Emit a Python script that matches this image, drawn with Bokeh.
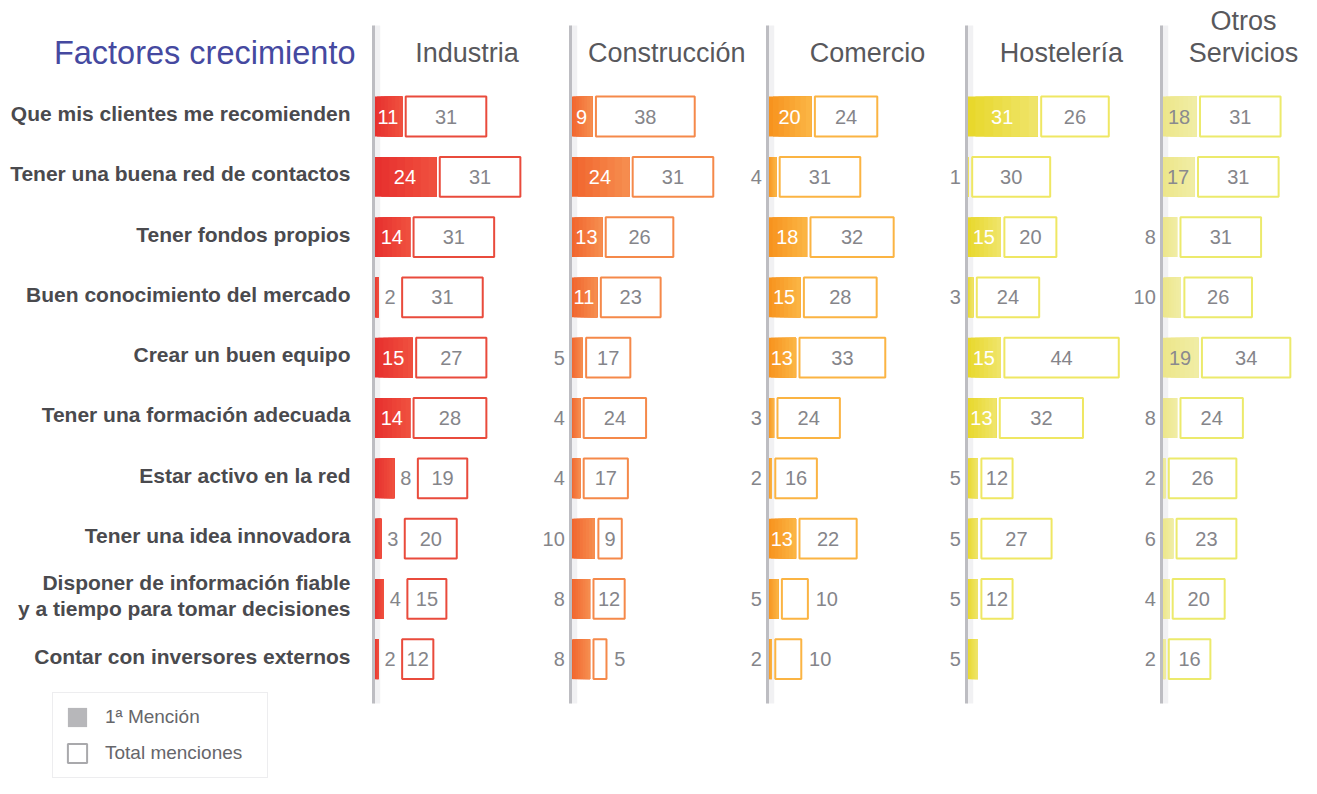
from bokeh.plotting import figure
from bokeh.models import Range1d, ColumnDataSource, Legend, LegendItem
from bokeh.embed import file_html
from bokeh.resources import INLINE
from bokeh.core.properties import value

# ---------------- data ----------------
factores = [
    "Que mis clientes me recomienden",
    "Tener una buena red de contactos",
    "Tener fondos propios",
    "Buen conocimiento del mercado",
    "Crear un buen equipo",
    "Tener una formación adecuada",
    "Estar activo en la red",
    "Tener una idea innovadora",
    "Disponer de información fiable\ny a tiempo para tomar decisiones",
    "Contar con inversores externos",
]
sectores = ["Industria", "Construcción", "Comercio", "Hostelería", "Otros\nServicios"]

primera_industria = [11, 24, 14, 2, 15, 14, 8, 3, 4, 2]
total_industria = [31, 31, 31, 31, 27, 28, 19, 20, 15, 12]
primera_construccion = [9, 24, 13, 11, 5, 4, 4, 10, 8, 8]
total_construccion = [38, 31, 26, 23, 17, 24, 17, 9, 12, 5]
primera_comercio = [20, 4, 18, 15, 13, 3, 2, 13, 5, 2]
total_comercio = [24, 31, 32, 28, 33, 24, 16, 22, 10, 10]
primera_hosteleria = [31, 1, 15, 3, 15, 13, 5, 5, 5, 5]
total_hosteleria = [26, 30, 20, 24, 44, 32, 12, 27, 12, None]
primera_otros = [18, 17, 8, 10, 19, 8, 2, 6, 4, 2]
total_otros = [31, 31, 31, 26, 34, 24, 26, 23, 20, 16]

primera = [primera_industria, primera_construccion, primera_comercio, primera_hosteleria, primera_otros]
total = [total_industria, total_construccion, total_comercio, total_hosteleria, total_otros]

titulo = "Factores crecimiento"
leyenda = ["1ª Mención", "Total menciones"]

# ---------------- styles / layout ----------------
W, H = 1301, 778
PX = 2.6            # px per unit (total boxes)
FILL_PX = [2.62, 2.45, 2.2, 2.3, 1.95]   # px per unit of the filled bars, per panel
ROW_PX = 60.3
TOP_PX = 116.0
FILL_A = ["#e7302e", "#f1662e", "#f7931e", "#e8d82c", "#ede68a"]   # left of bar
FILL_B = ["#ef4f3e", "#f68c4e", "#fbb443", "#efe468", "#f0eda4"]   # right of bar
LINE = ["#e94b3c", "#f5894a", "#fbb443", "#efe763", "#ecea6c"]
IN_TXT = ["white", "white", "white", "white", "#8a8a8e"]
OUT_MODE = ["between", "left", "left", "left", "left"]
AXIS_PAGE = [373, 570, 767, 966, 1161]
HEADER_DX = [36, 37, 38.5, 36.5, 31.5]
GRAY = "#85858a"
FONT = "Liberation Sans"
BAR_H = 0.66
STEPS = 8

def ux(page_x):
    return page_x / PX

def uy(page_y):
    return (page_y - TOP_PX) / ROW_PX

def mix(c1, c2, t):
    a = [int(c1[k:k + 2], 16) for k in (1, 3, 5)]
    b = [int(c2[k:k + 2], 16) for k in (1, 3, 5)]
    return "#" + "".join("%02x" % round(a[k] + (b[k] - a[k]) * t) for k in range(3))

p = figure(width=W, height=H, output_backend="svg", toolbar_location=None,
           x_range=Range1d(0, W / PX),
           y_range=Range1d((H - TOP_PX) / ROW_PX, -TOP_PX / ROW_PX),
           min_border=0, outline_line_color=None, background_fill_color="white")
p.axis.visible = False
p.xgrid.visible = False
p.ygrid.visible = False

bars = dict(left=[], right=[], top=[], bottom=[], color=[])
boxes = dict(left=[], right=[], top=[], bottom=[], color=[])
t_center = dict(x=[], y=[], text=[], color=[])
t_left = dict(x=[], y=[], text=[], color=[])
t_right = dict(x=[], y=[], text=[], color=[])

n = len(factores)
for i in range(len(sectores)):
    ax = ux(AXIS_PAGE[i])
    k = FILL_PX[i] / PX
    for j in range(n):
        f = primera[i][j]
        t = total[i][j]
        fw = f * k
        # bar drawn as overlapping strips for a left-to-right gradient
        for s in range(STEPS):
            bars["left"].append(ax + fw * s / STEPS)
            bars["right"].append(ax + fw)
            bars["top"].append(j - BAR_H / 2); bars["bottom"].append(j + BAR_H / 2)
            bars["color"].append(mix(FILL_A[i], FILL_B[i], s / (STEPS - 1)))
        inside = f >= 11 or f == 9
        if inside:
            t_center["x"].append(ax + fw / 2); t_center["y"].append(j)
            t_center["text"].append(str(f)); t_center["color"].append(IN_TXT[i])
            bs = ax + fw + 1.3
        elif OUT_MODE[i] == "between":
            t_center["x"].append(ax + fw + 4.4); t_center["y"].append(j)
            t_center["text"].append(str(f)); t_center["color"].append(GRAY)
            bs = ax + fw + 9
        else:
            t_right["x"].append(ax - 2.2); t_right["y"].append(j)
            t_right["text"].append(str(f)); t_right["color"].append(GRAY)
            bs = ax + fw + 1.3
        if t is None:
            continue
        boxes["left"].append(bs); boxes["right"].append(bs + t)
        boxes["top"].append(j - BAR_H / 2); boxes["bottom"].append(j + BAR_H / 2)
        boxes["color"].append(LINE[i])
        s = str(t)
        if t * PX >= 10 * len(s) + 8:
            t_center["x"].append(bs + t / 2); t_center["y"].append(j)
            t_center["text"].append(s); t_center["color"].append(GRAY)
        else:
            t_left["x"].append(bs + t + 3); t_left["y"].append(j)
            t_left["text"].append(s); t_left["color"].append(GRAY)

# axis shadows
y0, y1 = uy(25), uy(703)
axes_x = [ux(a) for a in AXIS_PAGE]
p.quad(left=axes_x, right=[a + 2.6 for a in axes_x], top=[y0] * 5, bottom=[y1] * 5,
       fill_color="#f1f1f3", line_color=None)

p.quad(left="left", right="right", top="top", bottom="bottom", source=ColumnDataSource(bars),
       fill_color="color", line_color=None)
p.quad(left="left", right="right", top="top", bottom="bottom", source=ColumnDataSource(boxes),
       fill_color="white", line_color="color", line_width=2)

p.segment(x0=axes_x, x1=axes_x, y0=[y0] * 5, y1=[y1] * 5, line_color="#bdbdc2", line_width=3)

for src, align in ((t_center, "center"), (t_left, "left"), (t_right, "right")):
    p.text(x="x", y="y", text="text", source=ColumnDataSource(src), text_color="color",
           text_align=align, text_baseline="middle", text_font_size="20px",
           text_font=value(FONT))

# row labels
lx, ly, lt = [], [], []
for j, lab in enumerate(factores):
    lines = lab.split("\n")
    kk = len(lines)
    for m, ln in enumerate(lines):
        lx.append(ux(350))
        ly.append(j - 0.05 + (m - (kk - 1) / 2) * (26 / ROW_PX))
        lt.append(ln)
p.text(x=lx, y=ly, text=lt, text_align="right", text_baseline="middle",
       text_font_size="21px", text_font_style="bold", text_color="#4a4a4e", text_font=value(FONT))

# headers
hx, hy, ht = [], [], []
for i, s in enumerate(sectores):
    lines = s.split("\n")
    kk = len(lines)
    for m, ln in enumerate(lines):
        hx.append(axes_x[i] + HEADER_DX[i])
        hy.append(uy(52) - (kk - 1 - m) * (32 / ROW_PX))
        ht.append(ln)
p.text(x=hx, y=hy, text=ht, text_align="center", text_baseline="middle",
       text_font_size="27px", text_color="#58585c", text_font=value(FONT))

p.text(x=[ux(355)], y=[uy(52)], text=[titulo], text_align="right", text_baseline="middle",
       text_font_size="32.5px", text_color="#4549a0", text_font=value(FONT))

# legend (sample glyphs placed outside the visible range)
r1 = p.quad(left=[-50], right=[-49], top=[-50], bottom=[-49], fill_color="#b7b7ba", line_color=None)
r2 = p.quad(left=[-50], right=[-49], top=[-50], bottom=[-49], fill_color="white",
            line_color="#a9a9ac", line_width=2)
legend = Legend(items=[LegendItem(label=leyenda[0], renderers=[r1]),
                       LegendItem(label=leyenda[1], renderers=[r2])],
                location=(52, 0), orientation="vertical", glyph_width=24, glyph_height=24,
                label_standoff=16, spacing=12, padding=12, margin=0, label_width=150,
                label_text_font_size="19px", label_text_color="#66666a", label_text_font=FONT,
                border_line_color="#dcdcdf", border_line_width=1, background_fill_color="white")
p.add_layout(legend)

open("out.html", "w").write(file_html(p, INLINE))
